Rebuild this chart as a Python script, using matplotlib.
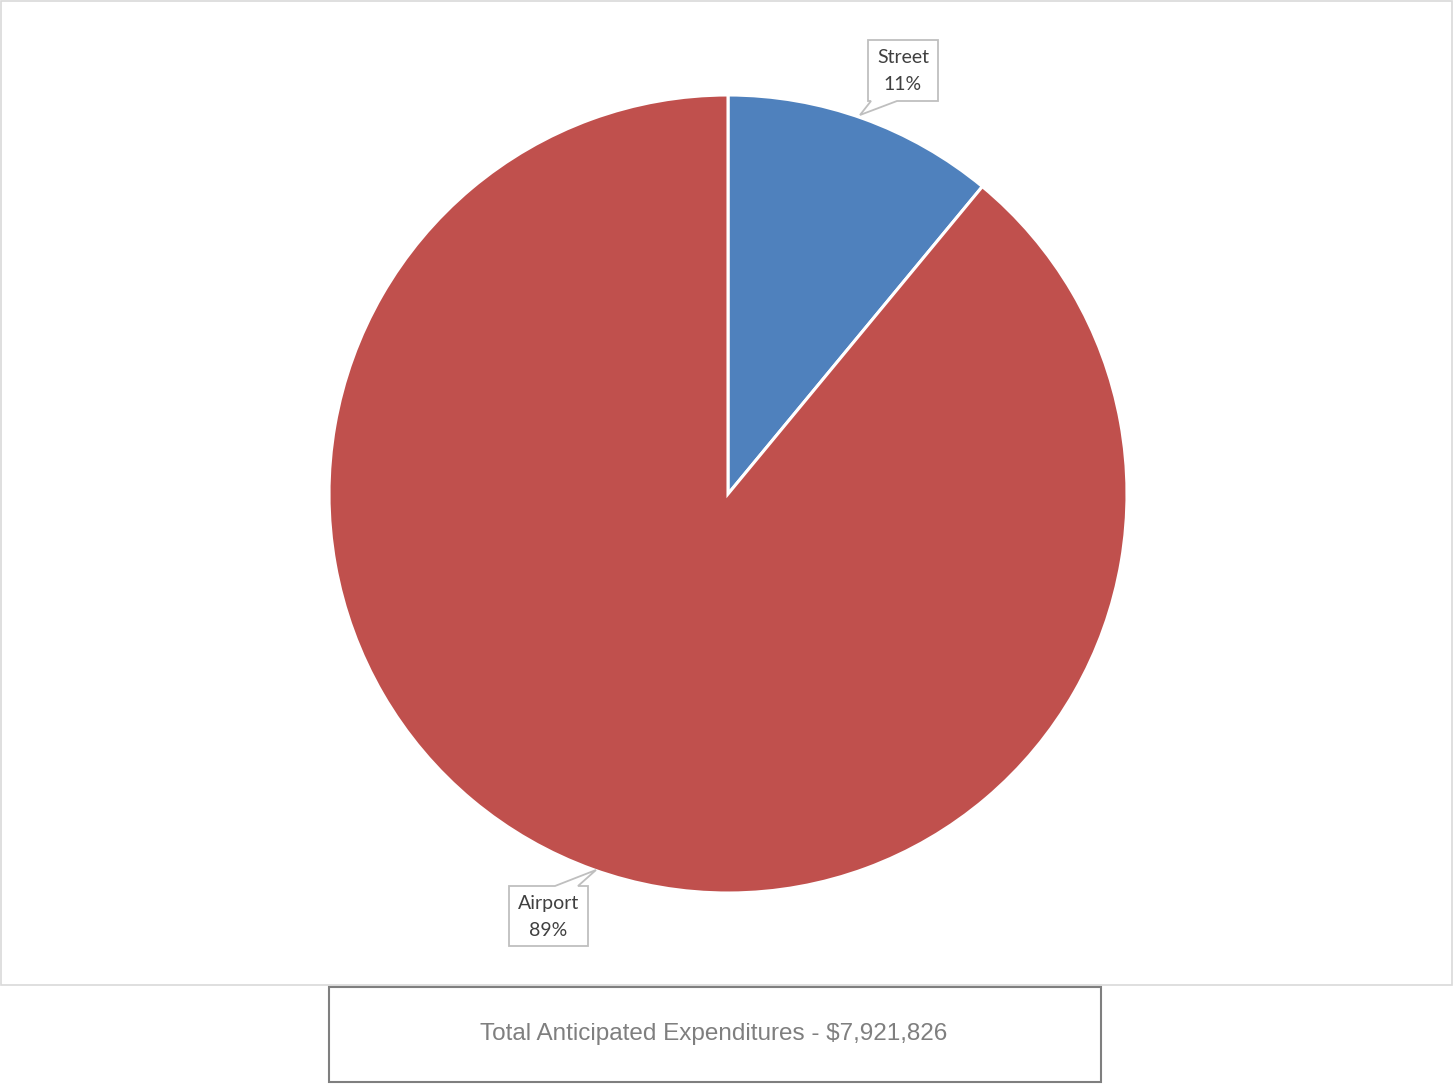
import matplotlib.pyplot as plt
from matplotlib.patches import Polygon, Rectangle

# data
labels = ["Street", "Airport"]
shares = [11, 89]
colors = ["#4F81BD", "#C0504D"]
total_text = "Total Anticipated Expenditures - $7,921,826"

W, H = 1453, 1084
fig = plt.figure(figsize=(W / 100, H / 100), dpi=100)
ax = fig.add_axes([0, 0, 1, 1])
ax.set_xlim(0, W)
ax.set_ylim(0, H)
ax.set_aspect("equal")
ax.axis("off")


def fy(y):
    # pixel row (top-down) -> data y
    return H - y


# chart area border
ax.add_patch(Rectangle((1, fy(985)), W - 2, 984, fill=False, ec="#D9D9D9", lw=1.2))

ax.pie(shares, colors=colors, startangle=90, counterclock=False,
       center=(728, fy(494)), radius=399,
       wedgeprops=dict(edgecolor="white", linewidth=2.2))
ax.set_xlim(0, W)
ax.set_ylim(0, H)


def callout(x0, x1, y0, y1, base, tip, side, name, pct):
    # box with a pointer; side = "bottom" or "top"
    if side == "bottom":
        pts = [(x0, y0), (x1, y0), (x1, y1), (base[1], y1), tip, (base[0], y1), (x0, y1)]
    else:
        pts = [(x0, y0), (base[0], y0), tip, (base[1], y0), (x1, y0), (x1, y1), (x0, y1)]
    ax.add_patch(Polygon([(px, fy(py)) for px, py in pts], closed=True,
                         fc="white", ec="#BFBFBF", lw=1.3, zorder=5))
    cx = (x0 + x1) / 2
    cy = (y0 + y1) / 2
    ax.text(cx, fy(cy - 13), name, ha="center", va="center", fontsize=14,
            color="#404040", family="Lato", zorder=6)
    ax.text(cx, fy(cy + 14), pct, ha="center", va="center", fontsize=14,
            color="#404040", family="Lato", zorder=6)


callout(868, 938, 40, 101, (871, 897), (860, 115), "bottom",
        labels[0], f"{shares[0]}%")
callout(509, 588, 886, 946, (555, 578), (596, 870), "top",
        labels[1], f"{shares[1]}%")

# total box below the chart
ax.add_patch(Rectangle((329, fy(1082)), 772, 95, fill=False, ec="#7F7F7F", lw=1.5))
ax.text(714, fy(1034), total_text, ha="center", va="center", fontsize=17.5,
        color="#7F7F7F", family="Liberation Sans")

fig.savefig("out.png", dpi=100, facecolor="white")
